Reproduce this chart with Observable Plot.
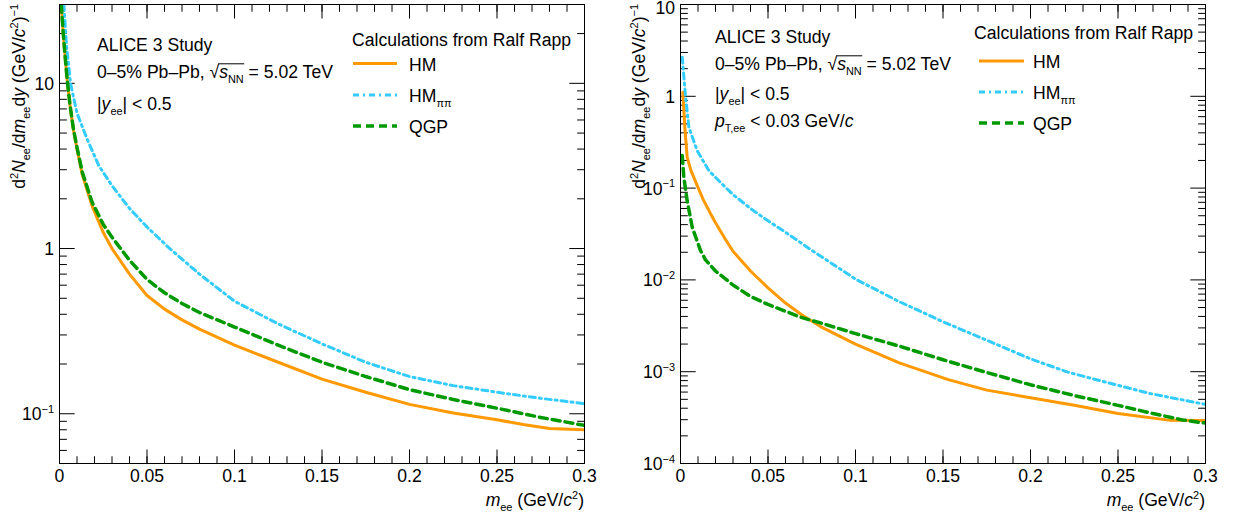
<!DOCTYPE html>
<html><head><meta charset="utf-8">
<script src="https://cdn.jsdelivr.net/npm/d3@7"></script>
<script src="https://cdn.jsdelivr.net/npm/@observablehq/plot@0.6"></script>
<style>
body{margin:0;background:#fff;}
#wrap{position:relative;width:1233px;height:517px;}
#wrap svg{position:absolute;top:0;overflow:visible;}
</style></head><body><div id="wrap"></div>
<script>
// ---------- data (m_ee in GeV/c^2, yield) ----------
const leftHM = [[0.001,30],[0.002,21],[0.003,15.5],[0.0044,10.5],[0.006,7.4],[0.008,5.2],[0.010,4.0],[0.013,2.8],[0.0187,1.8],[0.025,1.25],[0.03,1.0],[0.04,0.7],[0.05,0.52],[0.06,0.43],[0.07,0.37],[0.08,0.325],[0.1,0.26],[0.125,0.205],[0.15,0.162],[0.175,0.135],[0.2,0.114],[0.225,0.101],[0.25,0.092],[0.265,0.086],[0.28,0.0815],[0.3,0.080]];
const leftHMpipi = [[0.0025,30],[0.004,17],[0.0063,10],[0.01,6.6],[0.0158,4.6],[0.0223,3.2],[0.03,2.4],[0.04,1.75],[0.05,1.35],[0.063,1.0],[0.08,0.7],[0.1,0.48],[0.125,0.35],[0.15,0.265],[0.175,0.205],[0.2,0.168],[0.225,0.148],[0.25,0.135],[0.275,0.124],[0.3,0.115]];
const leftQGP = [[0.001,30],[0.002,21],[0.003,15.5],[0.0044,10.5],[0.006,7.4],[0.008,5.25],[0.01,4.1],[0.013,2.9],[0.0187,1.9],[0.025,1.4],[0.03,1.17],[0.04,0.85],[0.05,0.65],[0.06,0.54],[0.07,0.465],[0.08,0.41],[0.1,0.335],[0.125,0.26],[0.15,0.205],[0.175,0.168],[0.2,0.14],[0.225,0.122],[0.25,0.108],[0.275,0.095],[0.3,0.085]];

const rightHM = [[0.0013,1.11],[0.0025,0.45],[0.0038,0.217],[0.006,0.155],[0.0095,0.107],[0.013,0.075],[0.0171,0.053],[0.02,0.042],[0.025,0.029],[0.03,0.0205],[0.04,0.0125],[0.05,0.0082],[0.06,0.0056],[0.069,0.0042],[0.08,0.0031],[0.1,0.002],[0.125,0.00125],[0.153,0.00082],[0.175,0.00063],[0.2,0.00052],[0.225,0.00043],[0.25,0.00035],[0.28,0.000295],[0.3,0.000294]];
const rightHMpipi = [[0.001,2.67],[0.0029,0.98],[0.0048,0.46],[0.0095,0.256],[0.0162,0.155],[0.025,0.105],[0.03,0.085],[0.04,0.06],[0.05,0.044],[0.06,0.033],[0.075,0.021],[0.1,0.0102],[0.125,0.0058],[0.15,0.0035],[0.175,0.0022],[0.2,0.00138],[0.222,0.00098],[0.25,0.00071],[0.268,0.00058],[0.3,0.00044]];
const rightQGP = [[0.001,0.227],[0.0019,0.131],[0.0038,0.073],[0.0067,0.0375],[0.0114,0.021],[0.0143,0.0165],[0.02,0.0125],[0.03,0.0088],[0.04,0.0066],[0.05,0.0054],[0.069,0.0039],[0.08,0.0034],[0.1,0.0026],[0.125,0.0019],[0.15,0.00135],[0.175,0.00098],[0.2,0.00072],[0.225,0.00055],[0.25,0.00043],[0.27,0.00035],[0.287,0.000298],[0.3,0.000275]];

const seriesNames = ["HM", "HMpipi", "QGP"];
const xTickValues = [0, 0.05, 0.1, 0.15, 0.2, 0.25, 0.3];
const leftYExponents = [-1, 0, 1];
const rightYExponents = [-4, -3, -2, -1, 0, 1];
const leftInfo = ["ALICE 3 Study", "0–5% Pb–Pb", "5.02 TeV", "0.5"];
const rightInfo = ["ALICE 3 Study", "0–5% Pb–Pb", "5.02 TeV", "0.5", "0.03 GeV/"];
const legendTitle = "Calculations from Ralf Rapp";

// ---------- styling ----------
const FONT = '"Liberation Sans", Arial, Helvetica, sans-serif';
const FS = 17.6;
const XT = 13.5, YT = 15.7;
const styles = {
  HM: {stroke: "#ff9900", strokeWidth: 3},
  HMpipi: {stroke: "#33ccff", strokeWidth: 3, strokeDasharray: "6 4 2 4"},
  QGP: {stroke: "#009900", strokeWidth: 3.5, strokeDasharray: "8 5"}
};
const xMinor = d3.range(0, 0.3001, 0.01).map(v => +v.toFixed(2));
const fmtX = d => String(+d.toFixed(2));

function rich(g, x, y, parts, {anchor = "start", size = FS, rotate = 0} = {}) {
  const t = g.append("text").attr("x", x).attr("y", y)
    .attr("font-size", size).attr("font-family", FONT).attr("text-anchor", anchor).attr("fill", "black");
  if (rotate) t.attr("transform", `rotate(${rotate} ${x} ${y})`);
  let shift = 0; const nodes = [];
  for (const p of parts) {
    const [s, kind = ""] = Array.isArray(p) ? p : [p];
    const ts = t.append("tspan").text(s);
    let target = 0, fs = size;
    if (kind.includes("sub")) { target = 0.3 * size; fs = 0.62 * size; }
    if (kind.includes("sup")) { target = -0.42 * size; fs = 0.62 * size; }
    if (kind.includes("it")) ts.attr("font-style", "italic");
    ts.attr("font-size", fs);
    if (target - shift !== 0) ts.attr("dy", target - shift);
    shift = target;
    nodes.push(ts.node());
  }
  return nodes;
}

function makePanel(cfg) {
  const {left, width, marginLeft, marginRight, yDomain, yExps, data, info, pt, legendPos} = cfg;
  const yMajor = yExps.map(e => 10 ** e);
  const yMinor = [];
  for (let e = Math.floor(Math.log10(yDomain[0])); e <= Math.ceil(Math.log10(yDomain[1])); e++)
    for (let k = 2; k <= 9; k++) { const v = k * 10 ** e; if (v > yDomain[0] * 1.001 && v < yDomain[1] * 0.999) yMinor.push(v); }
  const none = () => "";
  const lines = seriesNames.map(n => Plot.line(data[n], {x: d => d[0], y: d => d[1], clip: true, ...styles[n]}));
  const plot = Plot.plot({
    width, height: 517, marginLeft, marginRight, marginTop: 4, marginBottom: 54,
    style: {fontFamily: FONT, fontSize: FS + "px", background: "transparent", color: "black"},
    x: {domain: [0, 0.3]},
    y: {type: "log", domain: yDomain},
    marks: [
      Plot.axisX({anchor: "bottom", ticks: xTickValues, tickSize: -XT, tickPadding: XT + 6, tickFormat: fmtX, label: null}),
      Plot.axisX({anchor: "bottom", ticks: xMinor, tickSize: -XT / 2, tickFormat: none, label: null}),
      Plot.axisX({anchor: "top", ticks: xTickValues, tickSize: -XT, tickFormat: none, label: null}),
      Plot.axisX({anchor: "top", ticks: xMinor, tickSize: -XT / 2, tickFormat: none, label: null}),
      Plot.axisY({anchor: "left", ticks: yMajor, tickSize: -YT, tickFormat: none, label: null}),
      Plot.axisY({anchor: "left", ticks: yMinor, tickSize: -YT / 2, tickFormat: none, label: null}),
      Plot.axisY({anchor: "right", ticks: yMajor, tickSize: -YT, tickFormat: none, label: null}),
      Plot.axisY({anchor: "right", ticks: yMinor, tickSize: -YT / 2, tickFormat: none, label: null}),
      ...lines,
      Plot.frame({stroke: "black", strokeWidth: 1})
    ]
  });
  plot.style.left = left + "px";
  document.getElementById("wrap").appendChild(plot);
  const svg = d3.select(plot);
  const ys = plot.scale("y"), xs = plot.scale("x");
  const x0 = xs.apply(0), x1 = xs.apply(0.3);
  // y tick labels
  yExps.forEach((e, i) => {
    const yy = Math.max(ys.apply(yMajor[i]) + 7, 13.8);
    const parts = e === 0 ? ["1"] : e === 1 ? ["10"] : ["10", ["−" + Math.abs(e), "sup"]];
    rich(svg, x0 - 5, yy, parts, {anchor: "end"});
  });
  // axis titles
  rich(svg, x1, 506, [["m", "it"], ["ee", "sub"], " (GeV/", ["c", "it"], ["2", "sup"], ")"], {anchor: "end"});
  rich(svg, cfg.yTitleX - left, 4, ["d", ["2", "sup"], ["N", "it"], ["ee", "sub"], "/d", ["m", "it"], ["ee", "sub"], "d", ["y", "it"], " (GeV/", ["c", "it"], ["2", "sup"], ")", ["−1", "sup"]], {anchor: "end", rotate: -90});
  // info block
  const ix = cfg.infoX - left;
  rich(svg, ix, cfg.infoY[0], [info[0]]);
  const n = rich(svg, ix, cfg.infoY[1], [info[1] + ", ", "√", ["s", "it"], ["NN", "sub"], " = " + info[2]]);
  const sx = n[2].getStartPositionOfChar(0).x, ex = n[3].getEndPositionOfChar(1).x;
  svg.append("line").attr("x1", sx - 1).attr("x2", ex + 0.5).attr("y1", cfg.infoY[1] - 14.2).attr("y2", cfg.infoY[1] - 14.2).attr("stroke", "black").attr("stroke-width", 1);
  rich(svg, ix, cfg.infoY[2], ["|", ["y", "it"], ["ee", "sub"], "| < " + info[3]]);
  if (pt) rich(svg, ix, cfg.infoY[3], [["p", "it"], ["T,ee", "sub"], " < " + info[4], ["c", "it"]]);
  // legend
  const lg = legendPos;
  rich(svg, lg.x - left, lg.titleY, [legendTitle]);
  const labels = {HM: ["HM"], HMpipi: ["HM", ["ππ", "sub"]], QGP: ["QGP"]};
  seriesNames.forEach((s, i) => {
    const st = styles[s];
    svg.append("line").attr("x1", lg.lx0 - left).attr("x2", lg.lx1 - left).attr("y1", lg.rows[i]).attr("y2", lg.rows[i])
      .attr("stroke", st.stroke).attr("stroke-width", st.strokeWidth).attr("stroke-dasharray", st.strokeDasharray || null);
    rich(svg, lg.tx - left, lg.rows[i] + 7, labels[s]);
  });
}

makePanel({left: 0, width: 616, marginLeft: 59, marginRight: 32, yDomain: [0.05, 30], yExps: leftYExponents,
  data: {HM: leftHM, HMpipi: leftHMpipi, QGP: leftQGP}, info: leftInfo, pt: false,
  yTitleX: 25, infoX: 97, infoY: [50.5, 78, 110],
  legendPos: {x: 352, titleY: 46, lx0: 353, lx1: 397, tx: 409, rows: [63.5, 95, 126]}});
makePanel({left: 617, width: 616, marginLeft: 63, marginRight: 28, yDomain: [1e-4, 10], yExps: rightYExponents,
  data: {HM: rightHM, HMpipi: rightHMpipi, QGP: rightQGP}, info: rightInfo, pt: true,
  yTitleX: 645, infoX: 715, infoY: [43, 70, 100, 127],
  legendPos: {x: 974, titleY: 39, lx0: 979, lx1: 1024, tx: 1033, rows: [61, 92, 123]}});
</script></body></html>
